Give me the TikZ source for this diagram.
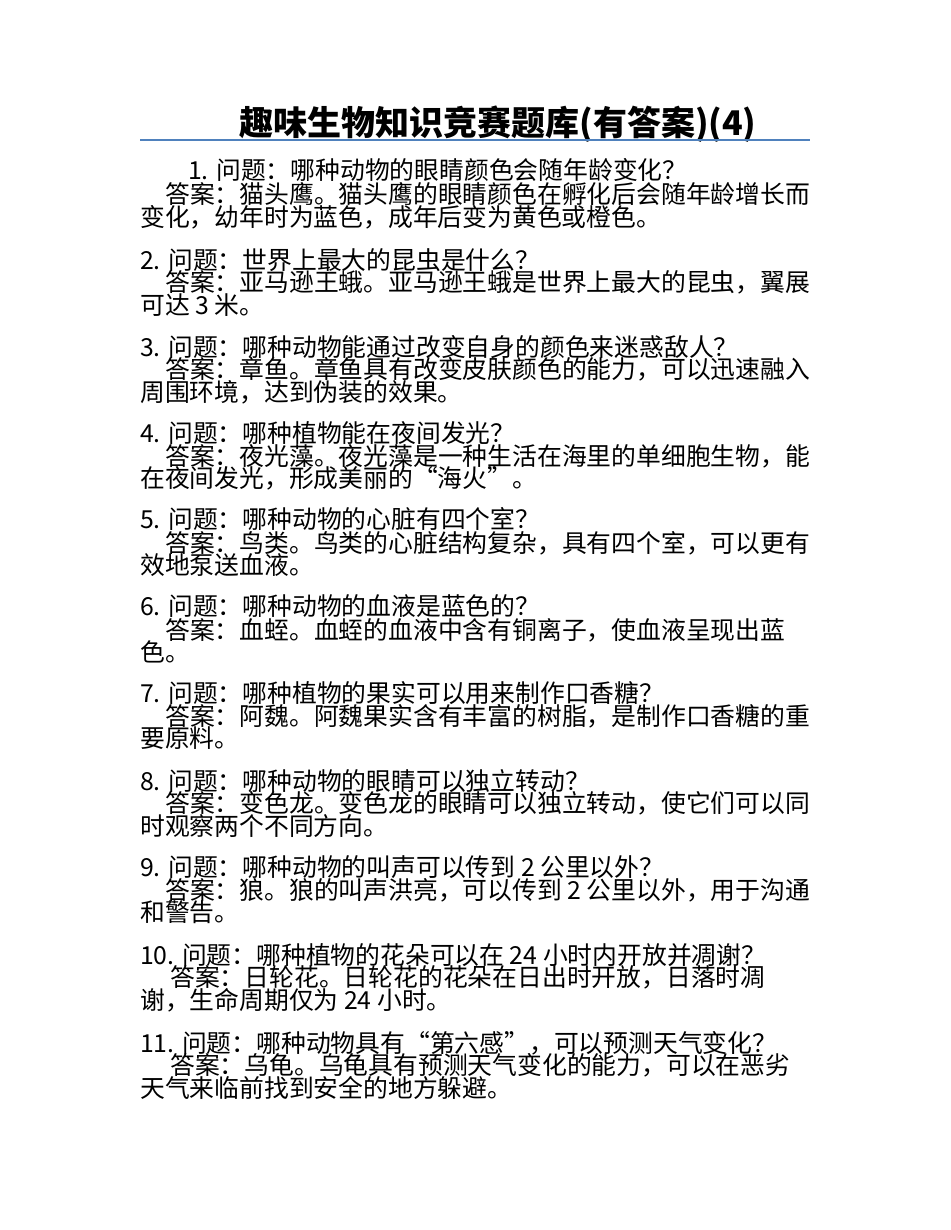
\documentclass[tikz,border=0pt]{standalone}
\usepackage{fontspec}
\setmainfont{Noto Sans CJK SC}
\begin{document}
\begin{tikzpicture}[x=1pt,y=-1pt,
 t/.style={anchor=west,inner sep=0pt,font=\fontsize{24.8}{26}\selectfont}]
\path[use as bounding box] (0,0) rectangle (950,1230);
\node[anchor=center,inner sep=0pt,font=\fontsize{34}{36}\selectfont\bfseries] (title) at (498,124) {趣味生物知识竞赛题库(有答案)(4)};
\draw[color={rgb,255:red,79;green,129;blue,189},line width=1.2] (140,140) coordinate (l1) -- (810,140) coordinate (l2);
\node[t] (q1) at (188,170) {1. 问题：哪种动物的眼睛颜色会随年龄变化？};
\node[t] (a1) at (165,194) {答案：猫头鹰。猫头鹰的眼睛颜色在孵化后会随年龄增长而};
\node[t] (b1) at (140,217) {变化，幼年时为蓝色，成年后变为黄色或橙色。};
\node[t] (q2) at (140,260) {2. 问题：世界上最大的昆虫是什么？};
\node[t] (a2) at (165,282) {答案：亚马逊王蛾。亚马逊王蛾是世界上最大的昆虫，翼展};
\node[t] (b2) at (140,305) {可达 3 米。};
\node[t] (q3) at (140,347) {3. 问题：哪种动物能通过改变自身的颜色来迷惑敌人？};
\node[t] (a3) at (165,369) {答案：章鱼。章鱼具有改变皮肤颜色的能力，可以迅速融入};
\node[t] (b3) at (140,392) {周围环境，达到伪装的效果。};
\node[t] (q4) at (140,433) {4. 问题：哪种植物能在夜间发光？};
\node[t] (a4) at (165,456) {答案：夜光藻。夜光藻是一种生活在海里的单细胞生物，能};
\node[t] (b4) at (140,478) {在夜间发光，形成美丽的“海火”。};
\node[t] (q5) at (140,519) {5. 问题：哪种动物的心脏有四个室？};
\node[t] (a5) at (165,543) {答案：鸟类。鸟类的心脏结构复杂，具有四个室，可以更有};
\node[t] (b5) at (140,565) {效地泵送血液。};
\node[t] (q6) at (140,606) {6. 问题：哪种动物的血液是蓝色的？};
\node[t] (a6) at (165,630) {答案：血蛭。血蛭的血液中含有铜离子，使血液呈现出蓝};
\node[t] (b6) at (140,652) {色。};
\node[t] (q7) at (140,693) {7. 问题：哪种植物的果实可以用来制作口香糖？};
\node[t] (a7) at (165,716) {答案：阿魏。阿魏果实含有丰富的树脂，是制作口香糖的重};
\node[t] (b7) at (140,738) {要原料。};
\node[t] (q8) at (140,781) {8. 问题：哪种动物的眼睛可以独立转动？};
\node[t] (a8) at (165,803) {答案：变色龙。变色龙的眼睛可以独立转动，使它们可以同};
\node[t] (b8) at (140,826) {时观察两个不同方向。};
\node[t] (q9) at (140,867) {9. 问题：哪种动物的叫声可以传到 2 公里以外？};
\node[t] (a9) at (165,890) {答案：狼。狼的叫声洪亮，可以传到 2 公里以外，用于沟通};
\node[t] (b9) at (140,912) {和警告。};
\node[t] (q10) at (140,955) {10. 问题：哪种植物的花朵可以在 24 小时内开放并凋谢？};
\node[t] (a10) at (170,977) {答案：日轮花。日轮花的花朵在日出时开放，日落时凋};
\node[t] (b10) at (140,1000) {谢，生命周期仅为 24 小时。};
\node[t] (q11) at (140,1043) {11. 问题：哪种动物具有“第六感”，可以预测天气变化？};
\node[t] (a11) at (170,1065) {答案：乌龟。乌龟具有预测天气变化的能力，可以在恶劣};
\node[t] (b11) at (140,1088) {天气来临前找到安全的地方躲避。};
\end{tikzpicture}
\end{document}
